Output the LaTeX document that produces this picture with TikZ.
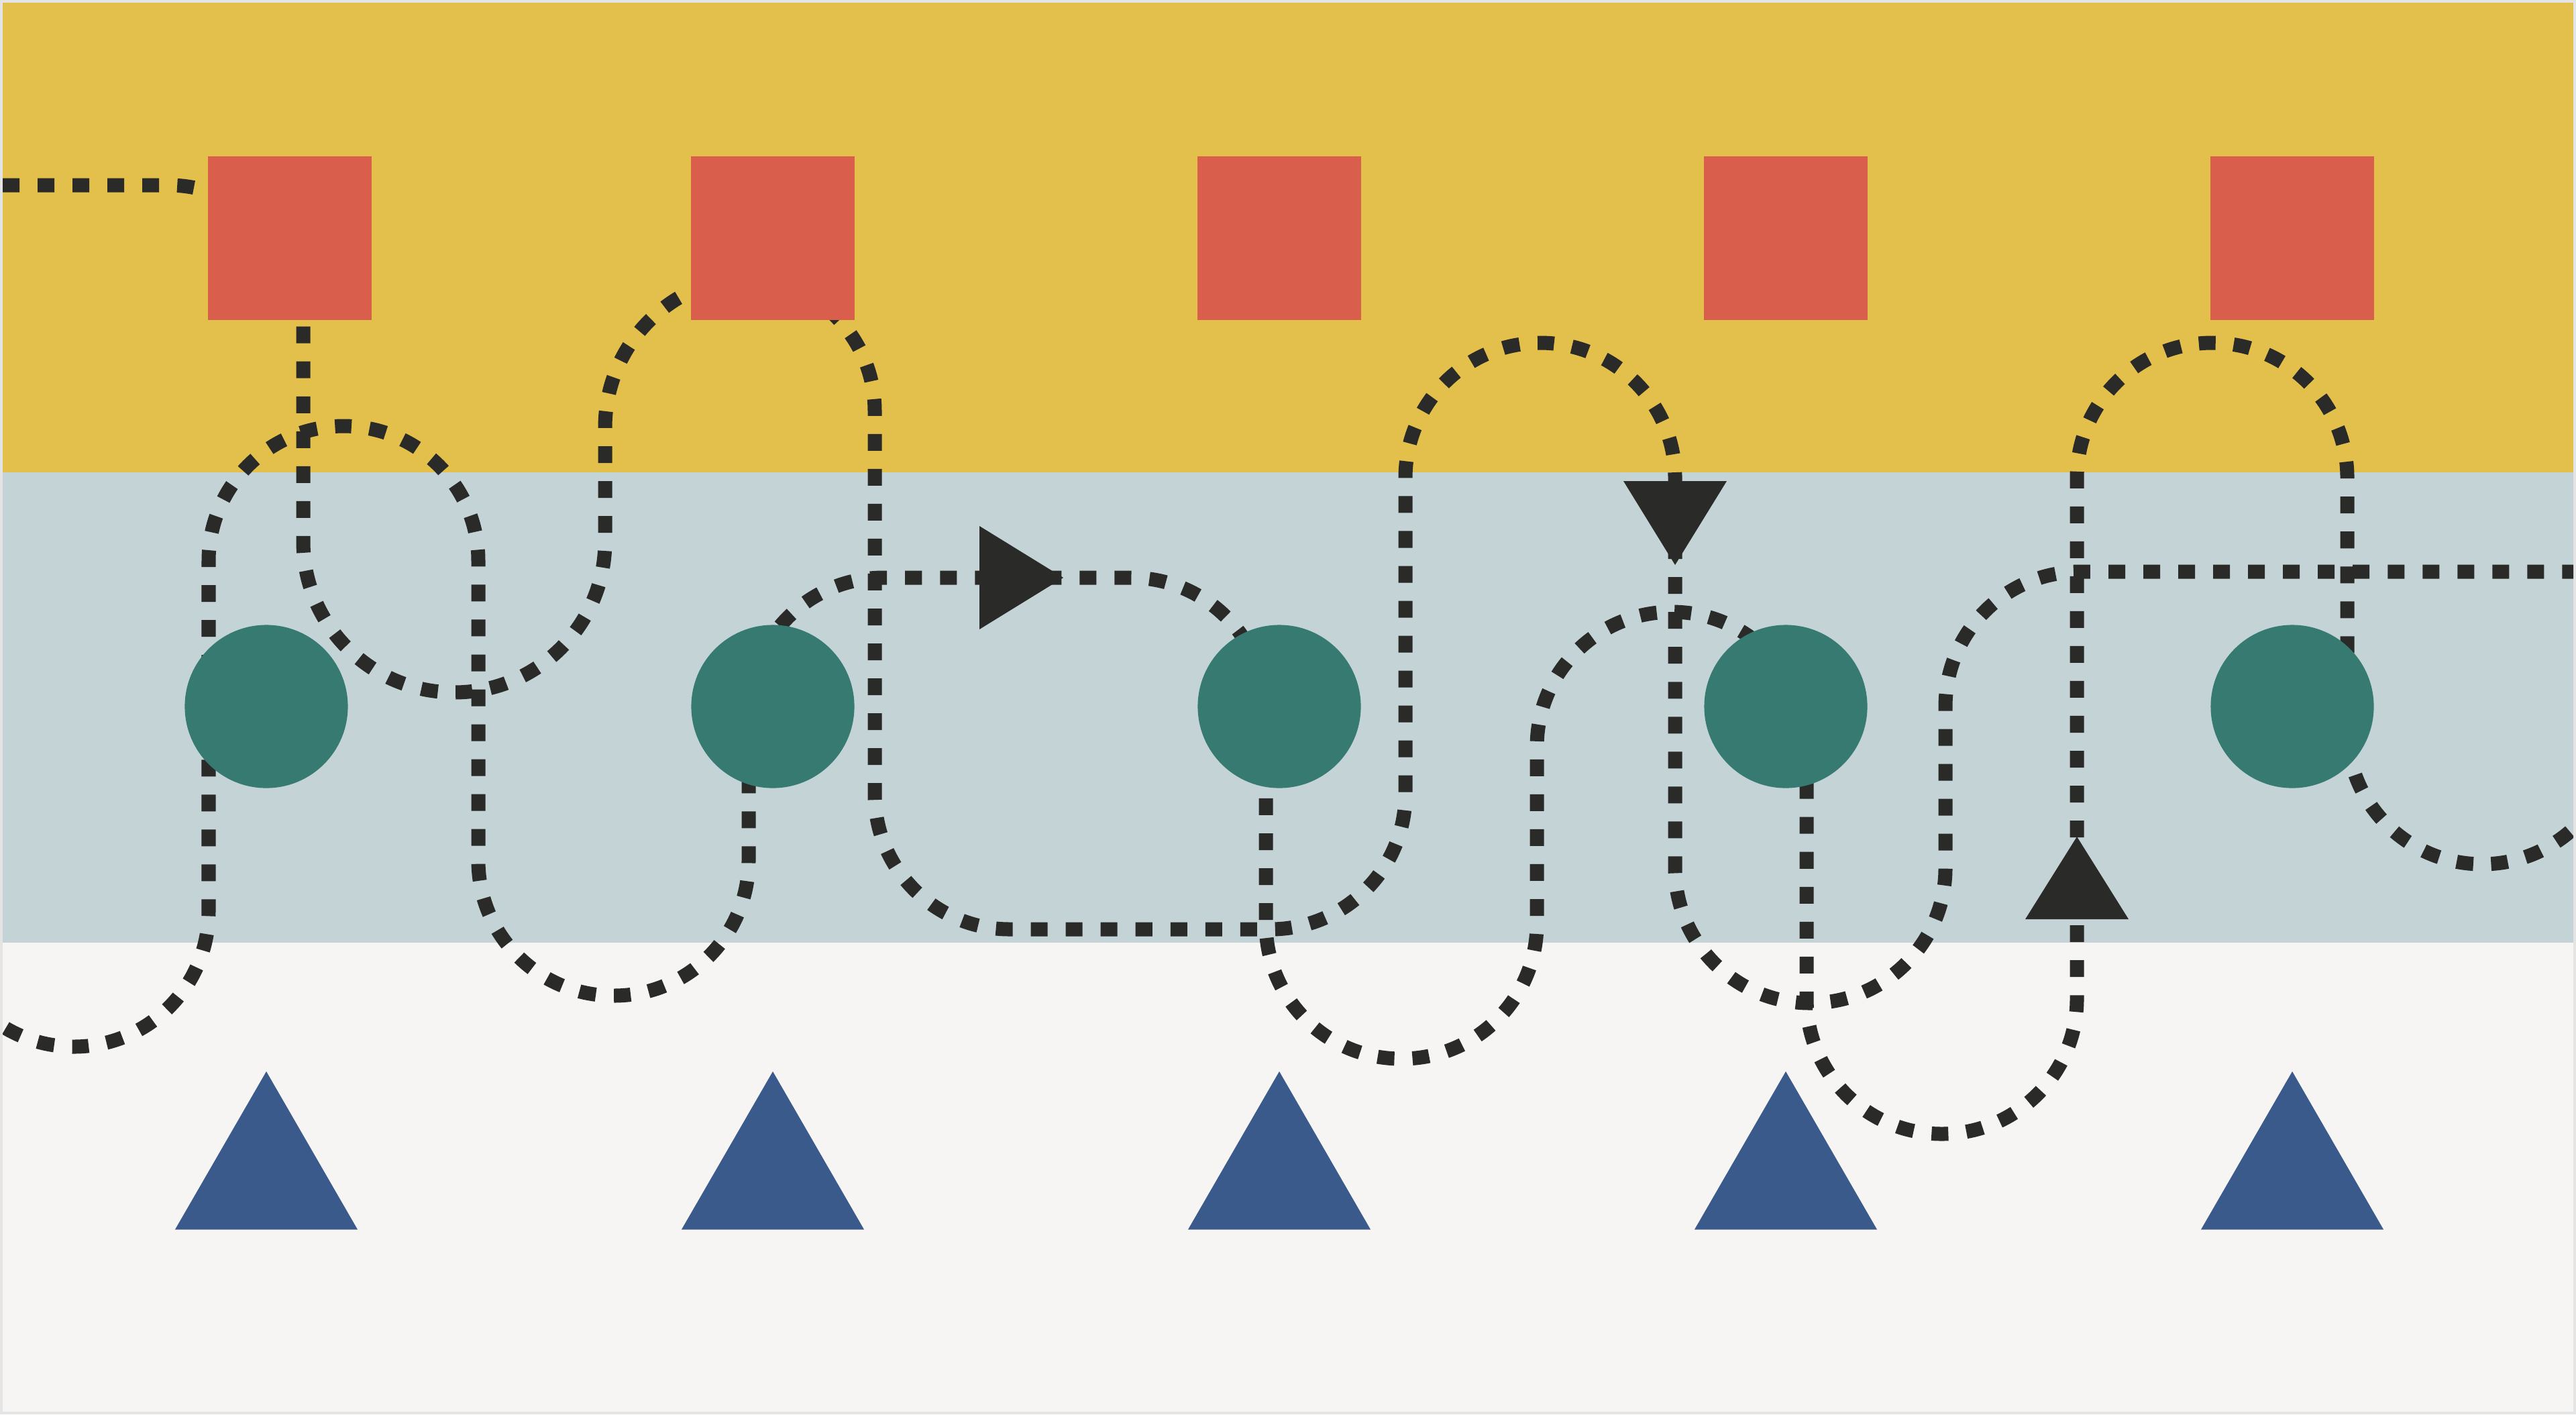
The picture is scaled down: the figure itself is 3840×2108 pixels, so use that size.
\documentclass[tikz,border=0pt]{standalone}
\usepackage{tikz}
\usetikzlibrary{shapes.geometric}
\definecolor{sand}{HTML}{E3BF4B}
\definecolor{mist}{HTML}{C3D3D6}
\definecolor{paper}{HTML}{F6F5F3}
\definecolor{rim}{HTML}{E4E4E4}
\definecolor{brick}{HTML}{D95E4B}
\definecolor{pine}{HTML}{377A72}
\definecolor{navy}{HTML}{3B5A8C}
\definecolor{ink}{HTML}{2A2A28}
\tikzset{
  box/.style={rectangle, fill=brick, inner sep=0pt, minimum size=2.43cm},
  disc/.style={circle, fill=pine, inner sep=0pt, minimum size=2.43cm},
  peak/.style={regular polygon, regular polygon sides=3, fill=navy, inner sep=0pt, minimum size=3.14cm},
  route/.style={draw=ink, line width=0.21cm, dash pattern=on 0.25cm off 0.27cm, rounded corners=2.01cm},
  tip/.style={fill=ink},
}

\begin{document}
\begin{tikzpicture}[x=0.01cm,y=-0.01cm]
  \useasboundingbox (0,0) rectangle (3840,2108);
  \fill[rim] (0,0) rectangle (3840,2108);
  \fill[sand] (4,4) rectangle (3836,704);
  \fill[mist] (4,704) rectangle (3836,1405);
  \fill[paper] (4,1405) rectangle (3836,2104);
  \begin{scope}
    \clip (4,4) rectangle (3836,2104);
    \coordinate (wA) at (-100,276);
    \coordinate (eA) at (3940,852);
    \coordinate (wB) at (-91,1100);
    \coordinate (eB) at (3901,900);
    \draw[route] (wA) -- (452,276) [rounded corners=2.25cm] -- (452,1032)
      -- (902,1032) -- (902,412) [rounded corners=2.01cm]
      -- (1304,412) -- (1304,1385) -- (2095,1385) -- (2095,511) -- (2497,511)
      -- (2497,1495) -- (2900,1495) -- (2900,852) -- (eA);
    \draw[route] (wB) -- (-91,1560) -- (311,1560) -- (311,635) -- (713,635)
      -- (713,1484) -- (1116,1484) -- (1116,861) -- (1887,861) -- (1887,1578)
      -- (2291,1578) -- (2291,912) -- (2693,912) -- (2693,1690) -- (3096,1690)
      -- (3096,511) -- (3499,511) -- (3499,1288) -- (3901,1288) -- (eB);
  \end{scope}
  \fill[tip] (1585,861) -- ++(-125,-77) -- ++(0,154) -- cycle;
  \fill[tip] (2497,842) -- ++(-77,-125) -- ++(154,0) -- cycle;
  \fill[tip] (3096,1247) -- ++(-77,123) -- ++(154,0) -- cycle;
  \node[box] (s1) at (432,355) {};
  \foreach \i/\x in {2/1152,3/1907,4/2662,5/3417}
    \node[box] (s\i) at (\x,355) {};
  \foreach \i/\x in {1/397,2/1152,3/1907,4/2662,5/3417} {
    \node[disc] (c\i) at (\x,1053) {};
    \node[peak] (t\i) at (\x,1754) {};
  }
\end{tikzpicture}
\end{document}
